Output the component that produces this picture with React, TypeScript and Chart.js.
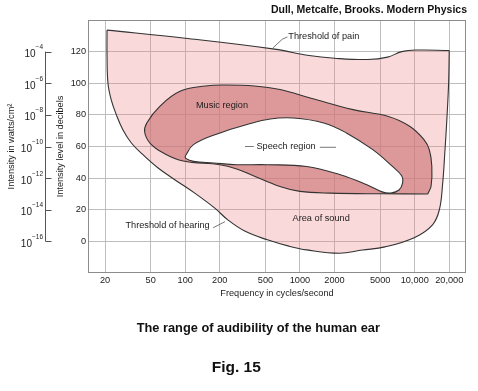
import React, { useEffect, useRef } from 'react';
import { Chart, registerables } from 'chart.js';

Chart.register(...registerables);

// ---- axis ticks ----
const freqTicks = [20, 50, 100, 200, 500, 1000, 2000, 5000, 10000, 20000];
const freqTickLabels = ['20', '50', '100', '200', '500', '1000', '2000', '5000', '10,000', '20,000'];
const dbTicks = [0, 20, 40, 60, 80, 100, 120];
const intensityExponents = [-16, -14, -12, -10, -8, -6, -4];

// ---- boundaries (frequency in Hz, level in dB) ----
const painFreq = [20.8, 100, 600, 1200, 2000, 3900, 5800, 7700, 10500, 20000];
const painDb = [133.6, 128.5, 121.6, 117.5, 115.8, 115, 116.5, 120, 121, 120.7];

const hearingFreq = [20000, 19750, 19100, 18300, 17500, 16400, 14300, 10000, 5500, 3500, 2200, 1150, 800, 520, 330, 235, 181, 121, 81, 58, 42.8, 33.9, 28.6, 25.1, 22.6, 21.2, 20.8, 20.8];
const hearingDb = [120.7, 100, 78, 56, 36, 20, 10.5, 2.5, -3.5, -5.5, -7.5, -5.4, -3, 1, 6.5, 13.6, 21, 30.5, 39, 46.4, 54.8, 62.2, 70.6, 80, 89.7, 100, 118, 133.6];

const musicFreq = [13000, 13900, 14100, 13400, 12000, 9100, 5900, 2900, 1250, 670, 400, 222, 150, 90, 60, 46.2, 44.3, 49.5, 64, 96, 200, 281, 392, 669, 1000, 1850, 5050, 13000];
const musicDb = [30, 35, 47.5, 58, 64.5, 72.7, 79, 83.3, 90.5, 96, 98.3, 98.9, 98.3, 94.9, 85.4, 74.9, 69, 62, 56, 50.8, 48.5, 45.8, 41.5, 34.7, 31.6, 30.5, 30.1, 30];

const speechFreq = [100, 118, 201, 341, 550, 873, 1610, 2540, 4310, 6400, 7700, 7850, 7300, 6200, 5200, 3830, 2250, 1140, 513, 281, 176, 118, 101, 100];
const speechDb = [54, 61.2, 68.6, 73.8, 77.4, 78, 74.9, 68.6, 58, 47.4, 41.5, 37, 32.5, 30.6, 31.3, 35.8, 42.1, 47.4, 48.5, 48.5, 49.6, 50.6, 52.5, 54];

// ---- text annotations (data coordinates) ----
const regionLabels = [
  { text: 'Threshold of pain', f: 791, db: 129.6, align: 'left' },
  { text: 'Music region', f: 209, db: 85.9, align: 'center' },
  { text: 'Speech region', f: 757, db: 60.2, align: 'center' },
  { text: 'Area of sound', f: 1530, db: 14.3, align: 'center' },
  { text: 'Threshold of hearing', f: 70.1, db: 9.8, align: 'center' },
];
const leaderFreqs = [[580, 700, 777], [175, 222], [332, 396], [1490, 2060]];
const leaderDbs = [[122.3, 127.8, 129.3], [8.6, 12.5], [60, 60], [59.5, 59.5]];

const FONT = "'Liberation Sans', Arial, sans-serif";
const TEXT = '#1c1c1c';
const AREA_FILL = 'rgba(238,140,140,0.33)';
const MUSIC_FILL = 'rgba(205,118,118,0.64)';
const OUTLINE = '#333333';

const pts = (fs: number[], ds: number[]) => fs.map((f, i) => ({ x: f, y: ds[i] }));

const shapesPlugin = {
  id: 'shapes',
  beforeDatasetsDraw(chart: any) {
    const ctx = chart.ctx;
    const area = chart.chartArea;
    // frame
    ctx.save();
    ctx.strokeStyle = '#8c8c8c';
    ctx.lineWidth = 1;
    ctx.strokeRect(area.left + 0.5, area.top + 0.5, area.right - area.left - 1, area.bottom - area.top - 1);
    ctx.restore();

    const lines = chart.data.datasets.map((_: any, i: number) => chart.getDatasetMeta(i).dataset);
    lines.forEach((l: any) => l.updateControlPoints(area, 'x'));
    const [pain, hearing, music, speech] = lines;
    ctx.save();
    ctx.beginPath();
    pain.path(ctx);
    hearing.pathSegment(ctx, hearing.segments[0], { move: false });
    ctx.closePath();
    ctx.fillStyle = AREA_FILL;
    ctx.fill();
    ctx.beginPath();
    music.path(ctx);
    ctx.closePath();
    ctx.fillStyle = MUSIC_FILL;
    ctx.fill();
    ctx.beginPath();
    speech.path(ctx);
    ctx.closePath();
    ctx.fillStyle = '#ffffff';
    ctx.fill();
    ctx.restore();
  },
  afterDatasetsDraw(chart: any) {
    const ctx = chart.ctx;
    const { x, y } = chart.scales;
    ctx.save();
    ctx.font = `9.2px ${FONT}`;
    ctx.fillStyle = TEXT;
    ctx.textBaseline = 'middle';
    regionLabels.forEach((l) => {
      ctx.textAlign = l.align;
      ctx.fillText(l.text, x.getPixelForValue(l.f), y.getPixelForValue(l.db));
    });
    ctx.strokeStyle = '#555';
    ctx.lineWidth = 0.8;
    leaderFreqs.forEach((fs, i) => {
      ctx.beginPath();
      fs.forEach((f, j) => {
        const px = x.getPixelForValue(f);
        const py = y.getPixelForValue(leaderDbs[i][j]);
        if (j === 0) ctx.moveTo(px, py);
        else ctx.lineTo(px, py);
      });
      ctx.stroke();
    });
    ctx.restore();
  },
  afterDraw(chart: any) {
    const ctx = chart.ctx;
    const y2 = chart.scales.y2;
    ctx.save();
    // intensity axis
    const ax = y2.right - 9.5;
    ctx.strokeStyle = '#555';
    ctx.lineWidth = 1;
    ctx.beginPath();
    ctx.moveTo(ax, y2.getPixelForValue(dbTicks[dbTicks.length - 1]));
    ctx.lineTo(ax, y2.getPixelForValue(dbTicks[0]));
    dbTicks.forEach((v) => {
      const py = Math.round(y2.getPixelForValue(v)) + 0.5;
      ctx.moveTo(ax, py);
      ctx.lineTo(ax + 6, py);
    });
    ctx.stroke();
    ctx.fillStyle = TEXT;
    ctx.textBaseline = 'alphabetic';
    dbTicks.forEach((v, i) => {
      const py = y2.getPixelForValue(v);
      const exp = '\u2212' + Math.abs(intensityExponents[i]);
      ctx.font = `6.5px ${FONT}`;
      ctx.textAlign = 'right';
      const ew = ctx.measureText(exp).width;
      ctx.fillText(exp, ax - 2.5, py - 2.4);
      ctx.font = `10px ${FONT}`;
      ctx.fillText('10', ax - 2.5 - ew, py + 5.4);
    });
    // header / footer
    ctx.fillStyle = '#111';
    ctx.font = `bold 10.5px ${FONT}`;
    ctx.textAlign = 'right';
    ctx.fillText('Dull, Metcalfe, Brooks. Modern Physics', 467, 13.3);
    ctx.font = `bold 12.8px ${FONT}`;
    ctx.textAlign = 'left';
    ctx.fillText('The range of audibility of the human ear', 136.7, 331.7);
    ctx.font = `bold 15.5px ${FONT}`;
    ctx.fillText('Fig. 15', 211.7, 371.7);
    ctx.restore();
  },
};

export default function App() {
  const ref = useRef<HTMLCanvasElement>(null);
  useEffect(() => {
    const lineStyle = {
      borderColor: OUTLINE,
      borderWidth: 1.1,
      pointRadius: 0,
      tension: 0.4,
      fill: false,
    };
    const chart = new Chart(ref.current as HTMLCanvasElement, {
      type: 'line',
      data: {
        datasets: [
          { label: 'Threshold of pain', data: pts(painFreq, painDb), ...lineStyle },
          { label: 'Threshold of hearing', data: pts(hearingFreq, hearingDb), ...lineStyle },
          { label: 'Music region', data: pts(musicFreq, musicDb), ...lineStyle },
          { label: 'Speech region', data: pts(speechFreq, speechDb), ...lineStyle },
        ],
      },
      options: {
        animation: false,
        responsive: false,
        events: [],
        layout: { padding: { top: 20, right: 12, bottom: 92, left: 0 } },
        plugins: { legend: { display: false }, tooltip: { enabled: false } },
        scales: {
          x: {
            type: 'logarithmic',
            min: 14.2,
            max: 28000,
            afterBuildTicks: (s: any) => {
              s.ticks = freqTicks.map((v) => ({ value: v }));
            },
            afterFit: (s: any) => {
              s.height = 26;
            },
            grid: { color: '#bdbdbd', drawTicks: false },
            border: { display: false },
            ticks: {
              autoSkip: false,
              maxRotation: 0,
              padding: 2,
              color: TEXT,
              font: { family: FONT, size: 9.2 },
              callback: (v: any) => freqTickLabels[freqTicks.indexOf(Number(v))] ?? '',
            },
            title: {
              display: true,
              text: 'Frequency in cycles/second',
              color: TEXT,
              font: { family: FONT, size: 9.2 },
              padding: { top: 0, bottom: 0 },
            },
          },
          y: {
            type: 'linear',
            position: 'left',
            min: -20,
            max: 140,
            weight: 0,
            afterBuildTicks: (s: any) => {
              s.ticks = dbTicks.map((v) => ({ value: v }));
            },
            afterFit: (s: any) => {
              s.width = 33;
            },
            grid: { color: '#bdbdbd', drawTicks: false },
            border: { display: false },
            ticks: {
              padding: 2,
              color: TEXT,
              font: { family: FONT, size: 9.2 },
            },
            title: {
              display: true,
              text: 'Intensity level in decibels',
              color: TEXT,
              font: { family: FONT, size: 9.2 },
              padding: { top: 0, bottom: 0 },
            },
          },
          y2: {
            type: 'linear',
            axis: 'y',
            position: 'left',
            min: -20,
            max: 140,
            weight: 1,
            afterFit: (s: any) => {
              s.width = 55;
            },
            grid: { display: false },
            border: { display: false },
            ticks: { display: false },
            title: {
              display: true,
              text: 'Intensity in watts/cm\u00B2',
              color: TEXT,
              font: { family: FONT, size: 9.2 },
              padding: { top: 6.3, bottom: 0 },
            },
          },
        },
      },
      plugins: [shapesPlugin],
    } as any);
    return () => chart.destroy();
  }, []);
  return (
    <div style={{ position: 'absolute', left: 0, top: 0, width: 478, height: 391, background: '#fff' }}>
      <canvas ref={ref} width={478} height={391} style={{ display: 'block', width: 478, height: 391 }} />
    </div>
  );
}
